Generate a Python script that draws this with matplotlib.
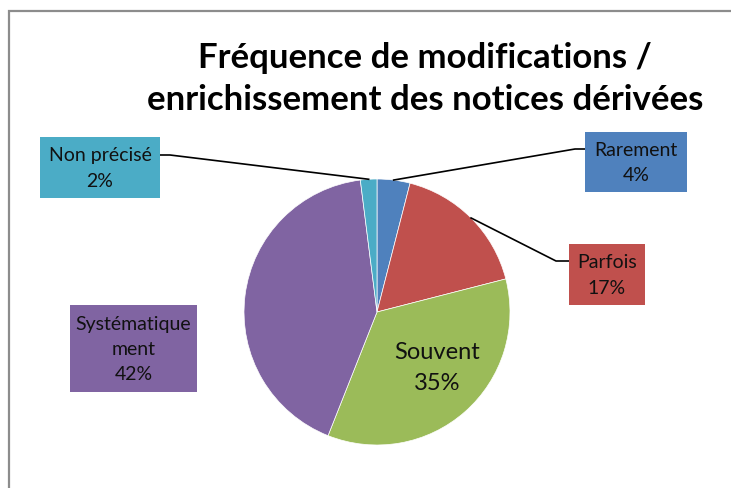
import numpy as np
import matplotlib
matplotlib.use("Agg")
import matplotlib.pyplot as plt
from matplotlib.patches import Rectangle

categories = ["Rarement", "Parfois", "Souvent", "Systématique\nment", "Non précisé"]
values = [4, 17, 35, 42, 2]
colors = ["#4F81BD", "#C0504D", "#9BBB59", "#8064A2", "#4BACC6"]
title = "Fréquence de modifications /\nenrichissement des notices dérivées"

W, H = 731, 489
fig = plt.figure(figsize=(W / 100, H / 100), dpi=100)
ax = fig.add_axes([0, 0, 1, 1])

plt.rcParams["font.family"] = ["Lato", "DejaVu Sans"]

cx, cy, r = 377, H - 313, 133
wedges, _ = ax.pie(values, colors=colors, startangle=90, counterclock=False,
                   center=(cx, cy), radius=r, frame=True,
                   wedgeprops=dict(linewidth=0.5, edgecolor="white"))
ax.set_xlim(0, W)
ax.set_ylim(0, H)
ax.set_aspect("equal")
ax.axis("off")

# frame
ax.add_patch(Rectangle((9, -10), W + 20, H - 12 + 10, fill=False,
                       edgecolor="#8c8c8c", linewidth=1.6))

ax.text(425, H - 79, title, ha="center", va="center", fontsize=25,
        fontweight="bold", linespacing=1.38, family=["Lato", "DejaVu Sans"])

def edge_point(i):
    w = wedges[i]
    a = np.deg2rad((w.theta1 + w.theta2) / 2)
    return cx + r * np.cos(a), cy + r * np.sin(a)

pct = [f"{v}%" for v in values]

# label boxes: (x0, y0_top_pixel, x1, y1_bottom_pixel)
boxes = {
    0: (585, 133, 687, 193),
    1: (569, 245, 645, 306),
    3: (70, 306, 197, 393),
    4: (40, 138, 160, 199),
}
for i, (x0, y0, x1, y1) in boxes.items():
    ax.add_patch(Rectangle((x0, H - y1), x1 - x0, y1 - y0, facecolor=colors[i],
                           edgecolor="none", zorder=3))
    ax.text((x0 + x1) / 2, H - (y0 + y1) / 2, f"{categories[i]}\n{pct[i]}",
            ha="center", va="center", fontsize=14, linespacing=1.6, zorder=4,
            color="#111111")

# leader lines
px, py = edge_point(0)
ax.plot([px, 575, 585], [py, H - 150, H - 150], color="black", lw=1.2, zorder=2)
px, py = edge_point(1)
ax.plot([px, 556, 569], [py, H - 262, H - 262], color="black", lw=1.2, zorder=2)
px, py = edge_point(4)
ax.plot([160, 170, px], [H - 156, H - 156, py], color="black", lw=1.2, zorder=2)

# inner label for Souvent
ax.text(437, H - 368, f"{categories[2]}\n{pct[2]}", ha="center", va="center",
        fontsize=17, linespacing=1.55, color="#111111", zorder=4)

fig.savefig("out.png", dpi=100)
